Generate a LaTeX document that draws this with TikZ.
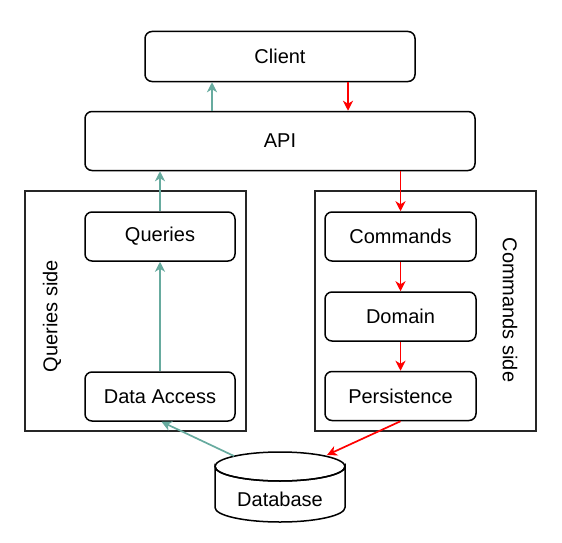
\documentclass[tikz,border=0pt]{standalone}
\usepackage{fontspec}
\setmainfont{Liberation Sans}
\usetikzlibrary{arrows.meta,calc}
\definecolor{tealc}{HTML}{67AB9F}
\definecolor{redc}{HTML}{FF0000}
\tikzset{
  x=1pt, y=-1pt,
  box/.style={draw=black, line width=1.5pt, rounded corners=7pt, inner sep=0pt,
    font=\fontsize{20}{24}\selectfont},
  sidebox/.style={draw=black!85, line width=1.6pt, inner sep=0pt},
  sidelabel/.style={font=\fontsize{20}{24}\selectfont, inner sep=0pt},
  tarrow/.style={draw=tealc, line width=1.7pt, -{Stealth[length=10pt,width=10pt,inset=3pt]}},
  rarrow/.style={draw=redc, line width=1.7pt, -{Stealth[length=10pt,width=10pt,inset=3pt]}},
}
\begin{document}
\begin{tikzpicture}
\useasboundingbox (0,0) rectangle (562,543);
% containers
\node[sidebox, minimum width=221pt, minimum height=240pt] (qside) at (135.5,311) {};
\node[sidebox, minimum width=221pt, minimum height=240pt] (cside) at (425.5,311) {};
\node[sidelabel, rotate=90] (qlabel) at (52,316) {Queries side};
\node[sidelabel, rotate=-90] (clabel) at (510,310) {Commands side};
% boxes
\node[box, minimum width=270pt, minimum height=50pt] (client) at (280,56.5) {Client};
\node[box, minimum width=390pt, minimum height=59pt] (api) at (280,141) {API};
\node[box, minimum width=150pt, minimum height=49pt] (queries) at (160,236.5) {Queries};
\node[box, minimum width=150pt, minimum height=49pt] (data) at (160,396.5) {Data Access};
\node[box, minimum width=151pt, minimum height=49pt] (commands) at (400.5,236.5) {Commands};
\node[box, minimum width=151pt, minimum height=49pt] (domain) at (400.5,316.5) {Domain};
\node[box, minimum width=151pt, minimum height=49pt] (persist) at (400.5,396) {Persistence};
% database cylinder
\draw[line width=1.5pt, fill=white]
  (215,466.5) arc[start angle=180, end angle=360, x radius=65pt, y radius=14.5pt]
  -- (345,507.5) arc[start angle=0, end angle=-180, x radius=65pt, y radius=14.5pt]
  -- cycle;
\draw[line width=1.5pt] (280,466.5) ellipse[x radius=65pt, y radius=14.5pt];
\node[font=\fontsize{20}{24}\selectfont, inner sep=0pt] (db) at (280,499) {Database};
\coordinate (dbq) at (234,456);
\coordinate (dbc) at (327,455);
% connectors
\draw[tarrow] ([xshift=-68pt]api.north) -- ([xshift=-68pt]client.south);
\draw[rarrow] ([xshift=68pt]client.south) -- ([xshift=68pt]api.north);
\draw[tarrow] (queries.north) -- (queries.north |- api.south);
\draw[rarrow] (commands.north |- api.south) -- (commands.north);
\draw[tarrow] (data.north) -- (queries.south);
\draw[rarrow] (commands.south) -- (domain.north);
\draw[rarrow] (domain.south) -- (persist.north);
\draw[tarrow] (dbq) -- ([xshift=1.5pt]data.south);
\draw[rarrow] (persist.south) -- (dbc);
\end{tikzpicture}
\end{document}
